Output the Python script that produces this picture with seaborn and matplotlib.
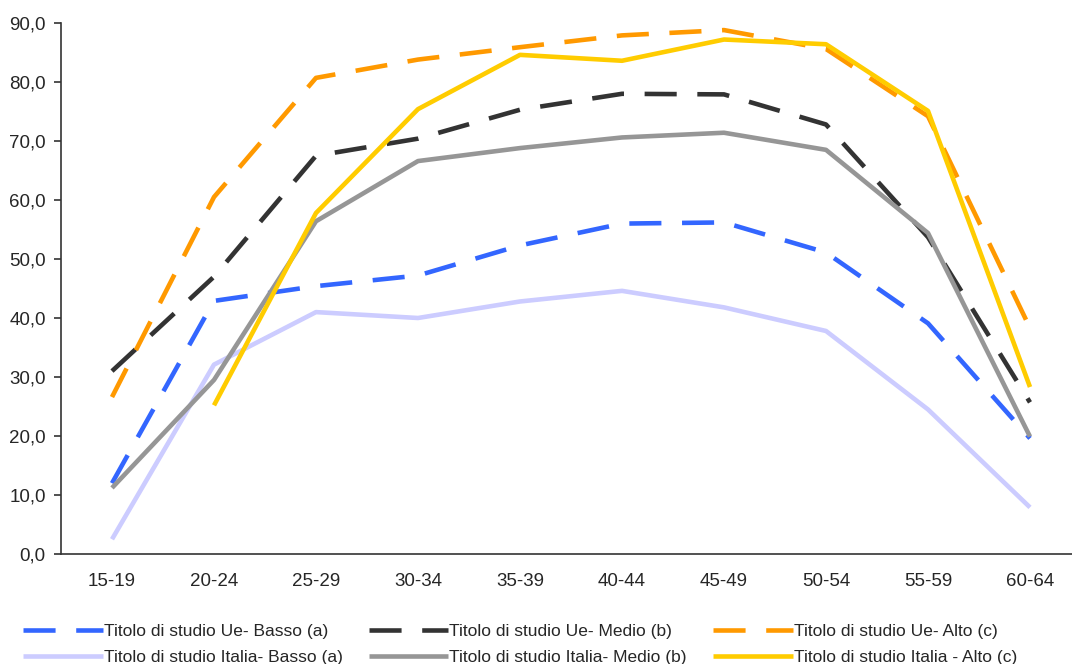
import numpy as np
import pandas as pd
import matplotlib
matplotlib.use("Agg")
import matplotlib.pyplot as plt
import seaborn as sns
from matplotlib.ticker import FuncFormatter, FixedLocator

# Age classes
age_classes = ["15-19", "20-24", "25-29", "30-34", "35-39",
               "40-44", "45-49", "50-54", "55-59", "60-64"]

# Employment rate by education level
ue_basso = [12.0, 42.9, 45.4, 47.2, 52.3, 56.0, 56.2, 51.1, 39.1, 19.6]
ue_medio = [31.0, 47.0, 67.5, 70.4, 75.3, 78.0, 77.9, 72.8, 53.7, 25.7]
ue_alto = [26.6, 60.5, 80.7, 83.8, 85.9, 87.9, 88.8, 85.6, 74.2, 38.3]
italia_basso = [2.5, 32.1, 41.0, 40.0, 42.8, 44.6, 41.8, 37.8, 24.5, 7.9]
italia_medio = [11.2, 29.5, 56.4, 66.6, 68.8, 70.6, 71.4, 68.5, 54.4, 19.9]
italia_alto = [np.nan, 25.2, 57.8, 75.4, 84.6, 83.6, 87.2, 86.4, 75.1, 28.3]

series = [
    ("Titolo di studio Ue- Basso (a)", ue_basso, "#3366FF", True),
    ("Titolo di studio Ue- Medio (b)", ue_medio, "#333333", True),
    ("Titolo di studio Ue- Alto (c)", ue_alto, "#FF9900", True),
    ("Titolo di studio Italia- Basso (a)", italia_basso, "#CCCCFF", False),
    ("Titolo di studio Italia- Medio (b)", italia_medio, "#969696", False),
    ("Titolo di studio Italia - Alto (c)", italia_alto, "#FFCC00", False),
]

sns.set_style("white")
plt.rcParams["font.family"] = ["Liberation Sans", "DejaVu Sans"]

fig = plt.figure(figsize=(10.72, 6.64), dpi=100)
ax = fig.add_axes([61 / 1072, 110 / 664, 1020 / 1072, 531 / 664])

pos = np.arange(len(age_classes))
handles = {}
for label, values, color, dashed in series:
    df = pd.DataFrame({"x": pos, "y": values})
    kw = dict(dashes=(7, 4.5)) if dashed else {}
    sns.lineplot(data=df, x="x", y="y", ax=ax, color=color, linewidth=3.3,
                 label=label, **kw)
    line = ax.get_lines()[-1]
    line.set_solid_capstyle("butt")
    line.set_dash_capstyle("butt")
    handles[label] = line

if ax.get_legend():
    ax.get_legend().remove()

ax.set_xlim(-0.5, len(age_classes) - 0.5)
ax.set_ylim(0, 90)
ax.set_xticks(pos)
ax.set_xticklabels(age_classes)
ax.xaxis.set_minor_locator(FixedLocator(np.arange(-0.5, len(age_classes), 1)))
ax.tick_params(axis="x", which="major", length=0, pad=14, labelsize=13.5)
ax.tick_params(axis="x", which="minor", length=6, width=1.2, color="#333333",
               direction="out")
ax.set_yticks(np.arange(0, 91, 10))
ax.yaxis.set_major_formatter(FuncFormatter(lambda v, p: f"{v:.1f}".replace(".", ",")))
ax.tick_params(axis="y", length=5, width=1.2, color="#333333", direction="out",
               labelsize=13.5, pad=6)
ax.tick_params(bottom=True, left=True)
ax.set_xlabel("")
ax.set_ylabel("")

for side in ["top", "right"]:
    ax.spines[side].set_visible(False)
for side in ["left", "bottom"]:
    ax.spines[side].set_color("#333333")
    ax.spines[side].set_linewidth(1.2)

# legend filled row by row
order = [0, 3, 1, 4, 2, 5]
leg_handles = [handles[series[i][0]] for i in order]
leg_labels = [series[i][0] for i in order]
fig.legend(leg_handles, leg_labels, loc="upper left",
           bbox_to_anchor=(16 / 1072, 1 - 617 / 664), ncol=3, frameon=False,
           fontsize=12.5, handlelength=4.6, handletextpad=0.05,
           columnspacing=1.5, labelspacing=0.6, borderaxespad=0)

fig.savefig("out.png", dpi=100)
